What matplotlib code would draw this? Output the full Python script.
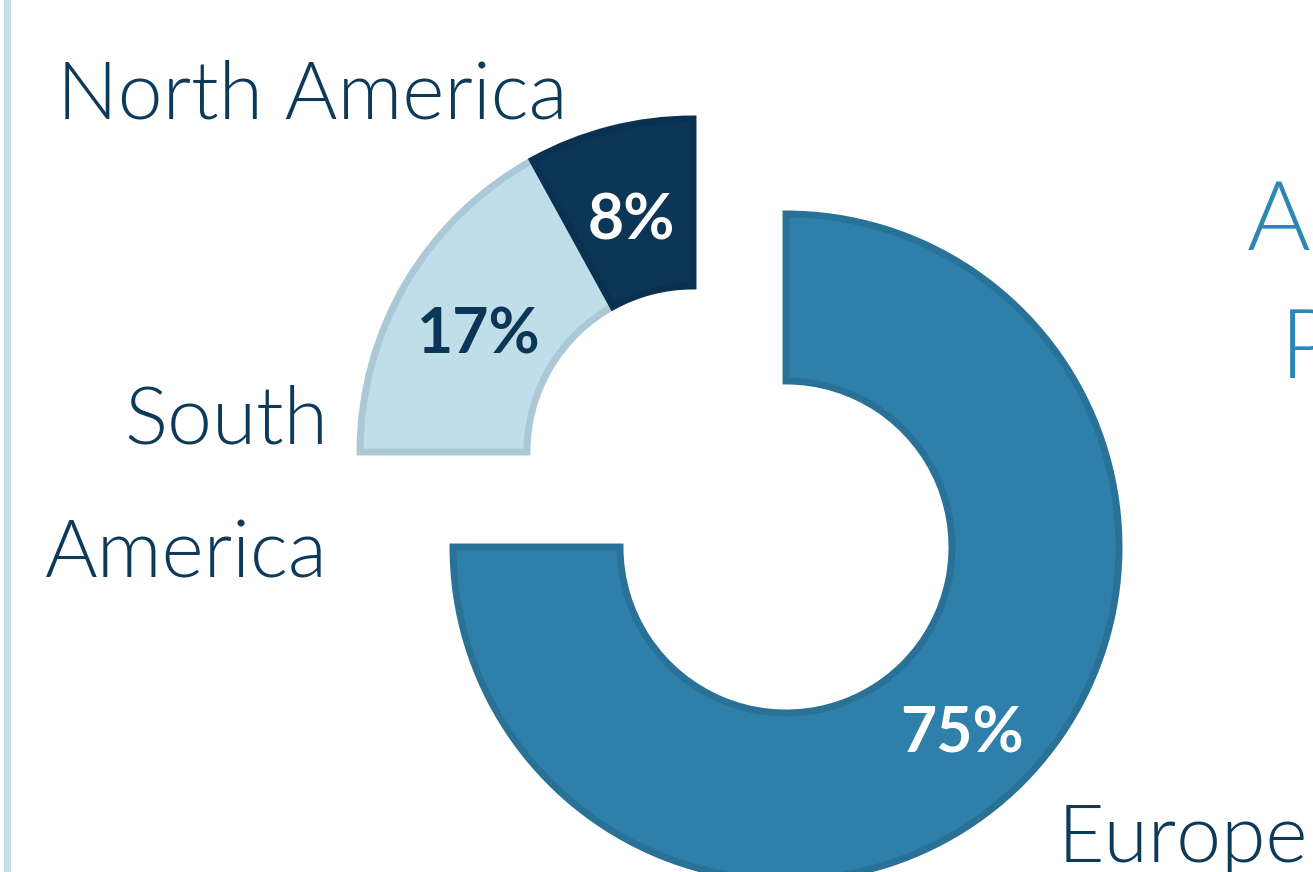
import matplotlib.pyplot as plt
import numpy as np

# shares of each region (%)
regions = ['Europe', 'South America', 'North America']
shares = [75, 17, 8]
fills = ['#2E80AB', '#C0DDEA', '#0C3656']
edges = ['#2A7198', '#AAC8D5', '#0B3150']
pct_colors = ['white', '#0C3656', 'white']

W, H = 1313, 872
fig = plt.figure(figsize=(W / 100, H / 100), dpi=100)
ax = fig.add_axes([0, 0, 1, 1])

R = 333
ring = 167
main_c = (786, H - 547)
pull = (-93, 95)  # the two small regions are pulled out together
side_c = (main_c[0] + pull[0], main_c[1] + pull[1])

# Europe ring on its own centre, the Americas shifted up-left
for idx, centre in [([0], main_c), ([1, 2], side_c)]:
    fc = [fills[i] if i in idx else 'none' for i in range(3)]
    ec = [edges[i] if i in idx else 'none' for i in range(3)]
    wedges, _ = ax.pie(shares, radius=R, center=centre, startangle=90,
                       counterclock=False, colors=fc,
                       wedgeprops=dict(width=ring, linewidth=5, joinstyle='miter'),
                       frame=True)
    for i, w in enumerate(wedges):
        w.set_edgecolor(ec[i])
        if i not in idx:
            continue
        mid = np.deg2rad((w.theta1 + w.theta2) / 2)
        rr = R - ring / 2
        ax.text(centre[0] + rr * np.cos(mid), centre[1] + rr * np.sin(mid) - 11,
                f'{shares[i]}%', ha='center', va='center', color=pct_colors[i],
                fontsize=45, fontweight='bold', family='Lato')

ax.set_xlim(0, W)
ax.set_ylim(0, H)
ax.set_aspect('equal')
ax.axis('off')

lab = dict(family='Lato', fontweight=300, color='#0E3A5A', fontsize=58)
ax.text(57, H - 118, 'North America', ha='left', va='baseline', **lab)
ax.text(328, H - 443, 'South', ha='right', va='baseline', **lab)
ax.text(328, H - 578, 'America', ha='right', va='baseline', **lab)
ax.text(1058, H - 862, 'Europe', ha='left', va='baseline', **lab)

# title, cut by the right edge as in the source slide
ttl = dict(family='Lato', fontweight=300, color='#2E86B5', fontsize=70)
ax.text(1247, H - 250, 'Annual', ha='left', va='baseline', **ttl)
ax.text(1280, H - 378, 'Production', ha='left', va='baseline', **ttl)

# thin accent bar on the left
fig.add_artist(plt.Line2D([7 / W, 7 / W], [0, 1], color='#C5DFEE', linewidth=5))

fig.savefig('out.png', dpi=100)
